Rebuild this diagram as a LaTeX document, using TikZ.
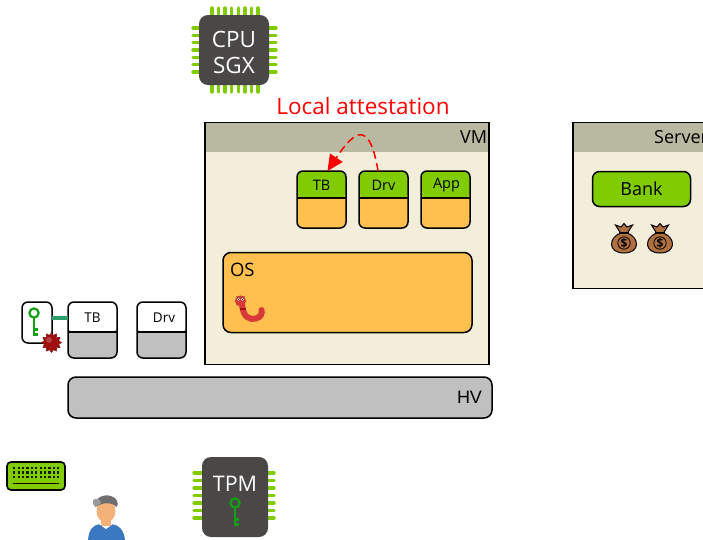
\documentclass[tikz,border=0pt]{standalone}
\usepackage{fontspec}
\setmainfont{Open Sans}
\newfontfamily\hvfont{Liberation Sans}
\usetikzlibrary{shapes.geometric,arrows.meta,calc}

\definecolor{leafgreen}{HTML}{80CC00}
\definecolor{boxorange}{HTML}{FFC04F}
\definecolor{paneltan}{HTML}{F2EEDA}
\definecolor{headerkhaki}{HTML}{B9B8A0}
\definecolor{chipgray}{HTML}{4A4747}
\definecolor{slotgray}{HTML}{C0C0C0}
\definecolor{keygreen}{HTML}{12A012}
\definecolor{linkteal}{HTML}{2E9E6A}
\definecolor{bagbrown}{HTML}{B07040}
\definecolor{sealred}{HTML}{A01010}
\definecolor{wormred}{HTML}{D83A3A}
\definecolor{skin}{HTML}{F4B27A}
\definecolor{capgray}{HTML}{6E6E6E}
\definecolor{shirtblue}{HTML}{3A78C0}

\begin{document}
\begin{tikzpicture}[x=1pt,y=-1pt,
  every node/.style={inner sep=0pt, outer sep=0pt},
  chippin/.style={draw=leafgreen, line width=3.4pt, line cap=round},
  chipbody/.style={fill=chipgray, rounded corners=9pt},
  chiptext/.style={text=white, font=\fontsize{22.5}{22.5}\selectfont},
  panel/.style={draw=black, line width=1.6pt, fill=paneltan,
    path picture={\fill[headerkhaki] (path picture bounding box.north west)
      rectangle ([yshift=-29pt]path picture bounding box.north east);}},
  slotbox/.style={draw=black, line width=1.5pt, rounded corners=6pt,
    minimum width=49pt, minimum height=57pt},
  enclave/.style={slotbox, fill=boxorange,
    path picture={\fill[leafgreen] (path picture bounding box.north west)
      rectangle ([yshift=-27pt]path picture bounding box.north east);
      \draw[line width=1.5pt] ([yshift=-27pt]path picture bounding box.north west)
      -- ([yshift=-27pt]path picture bounding box.north east);}},
  hostslot/.style={slotbox, minimum height=56pt, fill=slotgray,
    path picture={\fill[white] (path picture bounding box.north west)
      rectangle ([yshift=-30pt]path picture bounding box.north east);
      \draw[line width=1.5pt] ([yshift=-30pt]path picture bounding box.north west)
      -- ([yshift=-30pt]path picture bounding box.north east);}},
  slotlabel/.style={font=\fontsize{14.5}{14.5}\selectfont},
  keyicon/.pic={
    \draw[keygreen, line width=2.2pt] (0,0) circle (4.6);
    \draw[keygreen, line width=2.2pt] (0,4.6) -- (0,23) (0,16.5) -- (4,16.5) (0,21.5) -- (4,21.5);
  },
  moneybag/.pic={
    \filldraw[fill=bagbrown, draw=black, line width=1pt]
      (-3.5,-5) .. controls (-16,0) and (-16,15) .. (0,15)
      .. controls (16,15) and (16,0) .. (3.5,-5) -- cycle;
    \filldraw[fill=bagbrown, draw=black, line width=1pt]
      (-3.5,-5) -- (-8.5,-13) -- (-3,-11) -- (0,-14.5) -- (3,-11) -- (8.5,-13) -- (3.5,-5) -- cycle;
    \draw[black, line width=1pt] (-5,-6) -- (5,-6);
    \draw[black, line width=0.8pt] (0,5) circle (6.2);
    \node[font=\bfseries\fontsize{12}{12}\selectfont] at (0,5) {\$};
  }
]
\useasboundingbox (0,0) rectangle (703,539);

% ---------- CPU with SGX ----------
\foreach \i in {0,...,7} {
  \draw[chippin] (212+\i*6.57,8) -- (212+\i*6.57,16);
  \draw[chippin] (212+\i*6.57,84) -- (212+\i*6.57,92);
}
\foreach \i in {0,...,6} {
  \draw[chippin] (193,28+\i*7.33) -- (200,28+\i*7.33);
  \draw[chippin] (268,28+\i*7.33) -- (276,28+\i*7.33);
}
\node[chipbody, minimum width=70pt, minimum height=70pt] (cpu) at (234,50) {};
\node[chiptext] (cpu1) at (234,39) {CPU};
\node[chiptext] (cpu2) at (234,65) {SGX};

% ---------- VM ----------
\node[panel, minimum width=284pt, minimum height=242pt] (vm) at (347,243.5) {};
\node[anchor=east, font=\fontsize{18}{18}\selectfont] (vmlabel) at (487,137.5) {VM};

\node[enclave] (tb) at (321.5,199.5) {};
\node[enclave] (drv) at (383.5,199.5) {};
\node[enclave] (app) at (445.5,199.5) {};
\node[slotlabel] (tbtext) at (321.5,185.5) {TB};
\node[slotlabel] (drvtext) at (383.5,185.5) {Drv};
\node[slotlabel] (apptext) at (446.5,185.5) {App};

\node[draw=black, line width=1.5pt, rounded corners=8pt, fill=boxorange,
      minimum width=249pt, minimum height=80pt] (os) at (347.5,292.5) {};
\node[anchor=west, font=\fontsize{18.5}{18.5}\selectfont] (oslabel) at (230,269.5) {OS};

% worm inside the OS
\draw[wormred, line width=6pt, line cap=round]
  (242,304) .. controls (243,318) and (250,320) .. (256,318.5)
  .. controls (261,317) and (262.5,313) .. (261.5,310);
\fill[wormred] (240.5,301) circle (5.6);
\fill[white] (238.5,299.5) circle (1.3) (242.5,299.5) circle (1.3);
\fill[black] (238.5,299.8) circle (0.6) (242.5,299.8) circle (0.6);
\draw[black!70, line width=0.6pt] (236.5,296.5) -- (239,297.5) (244.5,296.5) -- (242,297.5);
\fill[sealred] (239.5,307.5) rectangle (245.5,309.5);

% local attestation between enclaves
\node[text=red, font=\fontsize{22.5}{22.5}\selectfont] (attest) at (363,106) {Local attestation};
\coordinate (drvtop) at ($(drv.north)+(-5.5,0)$);
\coordinate (tbtop) at ($(tb.north)+(6,0)$);
\draw[red, line width=1.5pt, dash pattern=on 8pt off 4.5pt,
      -{Triangle[length=16pt, width=15pt]}]
  (drvtop) .. controls (370,122) and (356,128) .. (tbtop);

% ---------- Server ----------
\node[panel, minimum width=140pt, minimum height=166pt] (server) at (643,205.5) {};
\node[anchor=east, font=\fontsize{18}{18}\selectfont] (serverlabel) at (708,137.5) {Server};
\node[draw=black, line width=1.5pt, rounded corners=7pt, fill=leafgreen,
      minimum width=98pt, minimum height=35pt,
      font=\fontsize{18}{18}\selectfont] (bank) at (641.5,189) {Bank};
\pic (bag1) at (624,238) {moneybag};
\pic (bag2) at (660,238) {moneybag};

% ---------- host side ----------
\node[hostslot] (htb) at (92.5,330) {};
\node[hostslot] (hdrv) at (161.5,330) {};
\node[font=\fontsize{13.5}{13.5}\selectfont] (htbtext) at (92.5,317.5) {TB};
\node[font=\fontsize{13.5}{13.5}\selectfont] (hdrvtext) at (164,317.5) {Drv};

\node[draw=black, line width=1.5pt, rounded corners=6pt, fill=white,
      minimum width=30pt, minimum height=41pt] (keybox) at (37,322.5) {};
\draw[linkteal, line width=4.5pt] (keybox.east |- 0,318) coordinate (linka) -- (htb.west |- 0,318);
\pic (sealkey) at (34,313) {keyicon};
\node[star, star points=12, star point ratio=1.35, fill=sealred, draw=sealred!70!black,
      line width=0.4pt, minimum size=20pt] (seal) at (51.5,342.5) {};
\fill[sealred!80!white] (49,340) circle (3);

\node[draw=black, line width=1.5pt, rounded corners=8pt, fill=slotgray,
      minimum width=424pt, minimum height=41pt] (hv) at (280,397.5) {};
\node[anchor=east, font=\hvfont\fontsize{18}{18}\selectfont] (hvlabel) at (482,397.5) {HV};

% ---------- keyboard ----------
\node[draw=black, line width=1.6pt, rounded corners=4pt, fill=leafgreen,
      minimum width=58pt, minimum height=28pt] (keyboard) at (36,476) {};
\foreach \r in {468,472.5,477} {
  \foreach \c in {0,...,10} {
    \fill[black!85!leafgreen] (14.2+\c*4.4-1.1,\r-1.1) rectangle ++(2.2,2.2);
  }
}
\draw[black, line width=1.7pt] (keyboard.west |- 0,483.5) ++(6,0) -- ($(keyboard.east |- 0,483.5)+(-6,0)$);

% ---------- user ----------
\fill[shirtblue] (88,540) .. controls (89,528) and (94,525) .. (100,524)
  -- (112,524) .. controls (119,525) and (124,530) .. (125,540) -- cycle;
\fill[white] (99,524) -- (113,524) -- (106,529) -- cycle;
\fill[skin] (101,518) rectangle (111,526);
\node[ellipse, fill=skin, minimum width=19pt, minimum height=23pt] (head) at (106,511) {};
\fill[capgray] (95.5,507) .. controls (94,497) and (104,494) .. (111,496)
  .. controls (117,498) and (119,503) .. (117,507)
  .. controls (112,502) and (103,502) .. (95.5,507) -- cycle;
\fill[capgray!70!white] (95.5,507) .. controls (92,504) and (92,500) .. (95,499)
  .. controls (98,498) and (101,500) .. (101,503) -- cycle;

% ---------- TPM ----------
\foreach \i in {0,...,6} {
  \draw[chippin] (194,473+\i*7.5) -- (202,473+\i*7.5);
  \draw[chippin] (266,473+\i*7.5) -- (274,473+\i*7.5);
}
\node[chipbody, minimum width=66pt, minimum height=80pt] (tpm) at (235,497) {};
\node[text=white, font=\fontsize{21.5}{21.5}\selectfont] (tpmlabel) at (235,484) {TPM};
\pic (tpmkey) at (235,503) {keyicon};
\end{tikzpicture}
\end{document}
